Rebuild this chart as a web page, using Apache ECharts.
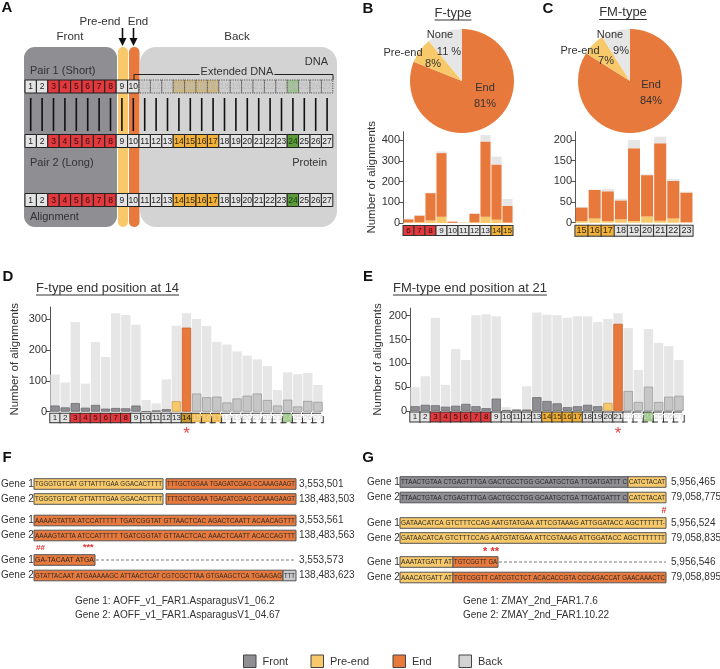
<!DOCTYPE html>
<html><head><meta charset="utf-8">
<script src="https://cdn.jsdelivr.net/npm/echarts@6/dist/echarts.min.js"></script>
<style>html,body{margin:0;padding:0;background:#fff}#c{width:720px;height:669px}</style>
</head><body><div id="c"></div>
<script>
// ---------------- DATA ----------------
const pieNames = ['End', 'Pre-end', 'None'];
const pieFValues = [81, 8, 11];
const pieFText = ['81%', '8%', '11 %'];
const pieFMValues = [84, 7, 9];
const pieFMText = ['84%', '7%', '9%'];

const barBCats = ['6','7','8','9','10','11','12','13','14','15'];
const barBPre  = [3, 4, 12, 30, 1, 0, 3, 30, 16, 2];
const barBEnd  = [15, 32, 132, 307, 6, 1, 42, 363, 266, 81];
const barBNone = [3, 2, 2, 8, 1, 1, 2, 31, 38, 33];
const barBRoles = ['r','r','r','g','g','g','g','g','o','o'];
const bTicks = [0, 100, 200, 300, 400];

const barCCats = ['15','16','17','18','19','20','21','22','23'];
const barCPre  = [4, 10, 4, 8, 4, 15, 5, 10, 1];
const barCEnd  = [33, 69, 72, 46, 176, 100, 187, 91, 72];
const barCNone = [1, 1, 6, 4, 20, 2, 16, 5, 2];
const barCRoles = ['o','o','o','g','g','g','g','g','g'];
const cTicks = [0, 50, 100, 150, 200];

const posCats = ['1','2','3','4','5','6','7','8','9','10','11','12','13','14','15','16','17','18','19','20','21','22','23','24','25','26','27'];
const posRoles = ['g','g','r','r','r','r','r','r','g','g','g','g','g','o','o','o','o','g','g','g','g','g','g','v','g','g','g'];

const dTotal = [121, 95, 291, 91, 226, 178, 320, 314, 282, 38, 27, 105, 279, 320, 301, 278, 227, 218, 196, 182, 170, 148, 70, 128, 122, 126, 87];
const dPart  = [20, 14, 28, 13, 22, 10, 12, 11, 20, 1, 4, 8, 34, 273, 59, 47, 49, 30, 43, 52, 59, 38, 20, 39, 17, 35, 32];
const dBarRoles = ['front','front','front','front','front','front','front','front','front','front','front','front','pre','end','back','back','back','back','back','back','back','back','back','back','back','back','back'];
const dLabelRoles = ['g','g','r','r','r','r','r','r','g','g','g','g','g','O','od','od','od','wd','wd','wd','wd','wd','wd','vd','wd','wd','wd'];
const dTicks = [0, 100, 200, 300];

const eTotal = [50, 73, 196, 55, 130, 107, 201, 203, 199, 8, 4, 52, 207, 202, 201, 196, 199, 199, 187, 193, 205, 174, 86, 172, 143, 136, 107];
const ePart  = [10, 13, 12, 9, 11, 15, 10, 6, 26, 2, 3, 3, 29, 21, 16, 8, 10, 13, 10, 17, 183, 42, 19, 51, 19, 30, 32];
const eBarRoles = ['front','front','front','front','front','front','front','front','front','front','front','front','front','front','front','front','front','front','front','pre','end','back','back','back','back','back','back'];
const eLabelRoles = ['g','g','r','r','r','r','r','r','g','g','g','g','g','o','o','o','o','g','g','g','g','wd','wd','vd','wd','wd','wd'];
const eTicks = [0, 50, 100, 150, 200];

const legendNames = ['Front', 'Pre-end', 'End', 'Back'];

const fGenes = ['Gene 1: AOFF_v1_FAR1.AsparagusV1_06.2', 'Gene 2: AOFF_v1_FAR1.AsparagusV1_04.67'];
const gGenes = ['Gene 1: ZMAY_2nd_FAR1.7.6', 'Gene 2: ZMAY_2nd_FAR1.10.22'];
const fNums = ['3,553,501','138,483,503','3,553,561','138,483,563','3,553,573','138,483,623'];
const gNums = ['5,956,465','79,058,775','5,956,524','79,058,835','5,956,546','79,058,895'];
const fSeqs = [
  ['TGGGTGTCAT GTTATTTGAA GGACACTTTT', 'TTTGCTGGAA TGAGATCGAG CCAAAGAAGT'],
  ['TGGGTGTCAT GTTATTTGAA GGACACTTTT', 'TTTGCTGGAA TGAGATCGAG CCAAAGAAGT'],
  ['AAAAGTATTA ATCCATTTTT TGATCGGTAT GTTAACTCAC AGACTCAATT ACAACAGTTT'],
  ['AAAAGTATTA ATCCATTTTT TGATCGGTAT GTTAACTCAC AAACTCAATT ACACCAGTTT'],
  ['GA-TACAAT ATGA'],
  ['GTATTACAAT ATGAAAAAGC ATTAACTCAT CGTCGCTTAA GTGAAGCTCA TGAAGAG', 'TTT']
];
const gSeqs = [
  ['TTAACTGTAA CTGAGTTTGA GACTGCCTGG GCAATGCTGA TTGATGATTT C', 'CATCTACAT'],
  ['TTAACTGTAA CTGAGTTTGA GACTGCCTGG GCAATGCTGA TTGATGATTT C', 'CATCTACAT'],
  ['GATAACATCA GTCTTTCCAG AATGTATGAA ATTCGTAAAG ATTGGATACC AGCTTTTTT-'],
  ['GATAACATCA GTCTTTCCAG AATGTATGAA ATTCGTAAAG ATTGGATACC AGCTTTTTTT'],
  ['AAATATGATT AT', 'TGTCGGTT GA'],
  ['AAACATGATT AT', 'TGTCGGTT CATCGTCTCT ACACACCGTA CCCAGACCAT GAACAAACTC']
];

// ---------------- STYLE ----------------
const FRONT = '#8e8e93', PRE = '#f7c96a', END = '#e8793c', BACK = '#d3d3d3', NONE = '#e6e6e6', BACKBAR = '#c6c6c6';
const FONT = '"Liberation Sans", Arial, sans-serif';
const NARROW = '"Liberation Sans Narrow", "Liberation Sans", sans-serif';
const pieColors = [END, PRE, NONE];
const cellStyles = {
  g:  {bg: '#e4e4e4', c: '#222', t: 'solid'},
  r:  {bg: '#e0393e', c: '#3a0808', t: 'solid'},
  o:  {bg: '#f0b23c', c: '#3a2600', t: 'solid'},
  O:  {bg: '#c99a30', c: '#2a1a00', t: 'solid'},
  od: {bg: '#efbe58', c: '#f7dca0', t: 'dashed'},
  wd: {bg: '#ffffff', c: '#d0d0d0', t: 'dashed'},
  vd: {bg: '#a3c892', c: '#c2dcb6', t: 'dashed'},
  v:  {bg: '#5b9b3c', c: '#1a3a10', t: 'solid'}
};
function richFor(w, h, fs) {
  const r = {};
  for (const k in cellStyles) {
    const s = cellStyles[k];
    r[k] = {width: w, height: h, lineHeight: h, align: 'center', verticalAlign: 'middle', fontSize: fs,
      fontFamily: FONT, color: s.c, backgroundColor: s.bg, borderColor: '#333', borderWidth: 1, borderType: s.t};
  }
  return r;
}
function fgStyle(role) {
  const m = {
    front: {color: FRONT, borderColor: '#6c6c70', borderWidth: 0.8},
    pre:   {color: PRE, borderColor: '#c9a050', borderWidth: 0.8},
    end:   {color: END, borderColor: '#c8602c', borderWidth: 0.8},
    back:  {color: BACKBAR, borderColor: '#9a9a9a', borderWidth: 0.8}
  };
  return m[role];
}
function yAx(grid, max, ticks, name, gap) {
  return {
    gridIndex: grid, type: 'value', min: 0, max: max,
    axisLine: {show: true, lineStyle: {color: '#555', width: 1}},
    axisTick: {show: true, length: 4, customValues: ticks, lineStyle: {color: '#555'}},
    axisLabel: {customValues: ticks, fontSize: 11, color: '#333', margin: 3, fontFamily: FONT},
    splitLine: {show: false},
    name: name || '', nameLocation: 'middle', nameGap: gap || 25,
    nameTextStyle: {fontSize: 11.5, color: '#333', fontFamily: FONT}
  };
}
function xAx(grid, cats, roles, w, h, fs, margin) {
  return {
    gridIndex: grid, type: 'category', data: cats,
    axisLine: {show: false}, axisTick: {show: false},
    axisLabel: {interval: 0, margin: margin, formatter: (v, i) => '{' + roles[i] + '|' + v + '}', rich: richFor(w, h, fs)}
  };
}

const chart = echarts.init(document.getElementById('c'), null, {width: 720, height: 669});

const grids = [
  {left: 403, top: 131.7, width: 110, height: 91.3},
  {left: 575, top: 131.7, width: 118, height: 91},
  {left: 50, top: 307, width: 273, height: 104.7},
  {left: 410, top: 308.1, width: 274, height: 102.9}
];

const option = {
  animation: false,
  textStyle: {fontFamily: FONT},
  grid: grids,
  xAxis: [
    xAx(0, barBCats, barBRoles, 10, 9, 8, 3),
    xAx(1, barCCats, barCRoles, 12.3, 10, 9, 3),
    xAx(2, posCats, dLabelRoles, 9.6, 8.5, 8, 2),
    xAx(3, posCats, eLabelRoles, 9.6, 9, 8, 1.5)
  ],
  yAxis: [
    yAx(0, 440, bTicks, 'Number of alignments', 24),
    yAx(1, 220, cTicks),
    yAx(2, 340, dTicks, 'Number of alignments', 29),
    yAx(3, 216, eTicks, 'Number of alignments', 26)
  ],
  series: [
    {type: 'pie', center: [462, 81], radius: 52, startAngle: 90, clockwise: true, silent: true,
      label: {show: false}, labelLine: {show: false},
      data: pieNames.map((n, i) => ({name: n, value: pieFValues[i], itemStyle: {color: pieColors[i]}}))},
    {type: 'pie', center: [630, 81], radius: 52, startAngle: 90, clockwise: true, silent: true,
      label: {show: false}, labelLine: {show: false},
      data: pieNames.map((n, i) => ({name: n, value: pieFMValues[i], itemStyle: {color: pieColors[i]}}))},

    {type: 'bar', xAxisIndex: 0, yAxisIndex: 0, stack: 'b', data: barBPre, itemStyle: {color: PRE}, barCategoryGap: '8%', silent: true},
    {type: 'bar', xAxisIndex: 0, yAxisIndex: 0, stack: 'b', data: barBEnd, itemStyle: {color: END}, barCategoryGap: '8%', silent: true},
    {type: 'bar', xAxisIndex: 0, yAxisIndex: 0, stack: 'b', data: barBNone, itemStyle: {color: NONE}, barCategoryGap: '8%', silent: true},

    {type: 'bar', xAxisIndex: 1, yAxisIndex: 1, stack: 'c', data: barCPre, itemStyle: {color: PRE}, barCategoryGap: '8%', silent: true},
    {type: 'bar', xAxisIndex: 1, yAxisIndex: 1, stack: 'c', data: barCEnd, itemStyle: {color: END}, barCategoryGap: '8%', silent: true},
    {type: 'bar', xAxisIndex: 1, yAxisIndex: 1, stack: 'c', data: barCNone, itemStyle: {color: NONE}, barCategoryGap: '8%', silent: true},

    {type: 'bar', xAxisIndex: 2, yAxisIndex: 2, data: dTotal, itemStyle: {color: NONE}, barGap: '-100%', barCategoryGap: '8%', silent: true},
    {type: 'bar', xAxisIndex: 2, yAxisIndex: 2, data: dPart.map((v, i) => ({value: v, itemStyle: fgStyle(dBarRoles[i])})), barGap: '-100%', barCategoryGap: '8%', silent: true},

    {type: 'bar', xAxisIndex: 3, yAxisIndex: 3, data: eTotal, itemStyle: {color: NONE}, barGap: '-100%', barCategoryGap: '8%', silent: true},
    {type: 'bar', xAxisIndex: 3, yAxisIndex: 3, data: ePart.map((v, i) => ({value: v, itemStyle: fgStyle(eBarRoles[i])})), barGap: '-100%', barCategoryGap: '8%', silent: true}
  ]
};
chart.setOption(option);

// ---------------- GRAPHIC ----------------
const G = [];
function R(x, y, w, h, fill, stroke, lw, dash, r, z) {
  G.push({type: 'rect', shape: {x, y, width: w, height: h, r: r || 0},
    style: {fill: fill, stroke: stroke || null, lineWidth: lw || 0, lineDash: dash || null}, z: z || 1, silent: true});
}
function T(x, y, s, o) {
  o = o || {};
  G.push({type: 'text', x, y, scaleX: o.sx || 1,
    style: {text: s, fill: o.c || '#333', font: o.f || ('11px ' + FONT), align: o.a || 'left', verticalAlign: o.v || 'middle',
      textAlign: o.a || 'left', textVerticalAlign: o.v || 'middle'}, z: o.z || 6, silent: true});
}
function L(x1, y1, x2, y2, stroke, lw, dash, z) {
  G.push({type: 'line', shape: {x1, y1, x2, y2}, style: {stroke, lineWidth: lw || 1, lineDash: dash || null}, z: z || 4, silent: true});
}
function P(points, fill, z) {
  G.push({type: 'polygon', shape: {points}, style: {fill}, z: z || 4, silent: true});
}
const mctx = document.createElement('canvas').getContext('2d');
function tw(s, font) { mctx.font = font; return mctx.measureText(s).width; }

// panel letters
const LF = 'bold 15px ' + FONT;
T(7, 8, 'A', {f: LF, a: 'center', c: '#111'});
T(368, 9, 'B', {f: LF, a: 'center', c: '#111'});
T(548, 9, 'C', {f: LF, a: 'center', c: '#111'});
T(8, 277, 'D', {f: LF, a: 'center', c: '#111'});
T(368, 277, 'E', {f: LF, a: 'center', c: '#111'});
T(7, 458, 'F', {f: LF, a: 'center', c: '#111'});
T(368, 458, 'G', {f: LF, a: 'center', c: '#111'});

// ---- Panel A ----
const AF = '11px ' + FONT;
R(24, 47, 93, 180, FRONT, null, 0, null, 11, 1);
R(118, 47, 10, 180, PRE, null, 0, null, 5, 1);
R(129, 47, 10.5, 180, END, null, 0, null, 5, 1);
R(140, 47, 197, 180, BACK, null, 0, null, 16, 1);
T(70, 37, 'Front', {f: '11.5px ' + FONT, a: 'center'});
T(237, 37, 'Back', {f: '11.5px ' + FONT, a: 'center'});
T(100, 22, 'Pre-end', {f: '11.5px ' + FONT, a: 'center'});
T(138, 22, 'End', {f: '11.5px ' + FONT, a: 'center'});
L(122.5, 28, 122.5, 40, '#111', 1.6);
P([[118.5, 38], [126.5, 38], [122.5, 46]], '#111');
L(133.5, 28, 133.5, 40, '#111', 1.6);
P([[129.5, 38], [137.5, 38], [133.5, 46]], '#111');
T(30, 71, 'Pair 1 (Short)', {f: AF});
T(30, 163, 'Pair 2 (Long)', {f: AF});
T(30, 217, 'Alignment', {f: AF});
T(328, 62, 'DNA', {f: AF, a: 'right'});
T(327, 163, 'Protein', {f: AF, a: 'right'});
T(237, 72, 'Extended DNA', {f: AF, a: 'center'});
const extW = tw('Extended DNA', AF);
L(134, 74.5, 237 - extW / 2 - 1, 74.5, '#222', 1);
L(237 + extW / 2 + 1, 74.5, 333, 74.5, '#222', 1);
L(134, 74.5, 134, 80, '#222', 1);
L(333, 74.5, 333, 80, '#222', 1);

const A_X0 = 25, A_CW = 11.4;
const aFill = {g: '#e4e4e4', r: '#e0393e', o: '#f0b23c', v: '#5b9b3c'};
const aFaded = {g: 'rgba(200,200,200,0.5)', r: 'rgba(224,57,62,0.4)', o: 'rgba(200,172,110,0.75)', v: 'rgba(140,185,125,0.75)'};
const aText = {g: '#222', r: '#3a0808', o: '#3a2600', v: '#1a3a10'};
function cellRow(y, faded) {
  for (let i = 0; i < posCats.length; i++) {
    const x = A_X0 + i * A_CW, role = posRoles[i];
    const f = faded && i >= 10;
    R(x, y, A_CW, 13, f ? aFaded[role] : aFill[role], f ? '#555' : '#222', 1, f ? [1.2, 1.2] : null, 0, 2);
    T(x + A_CW / 2, y + 6.8, posCats[i], {f: '8.5px ' + FONT, a: 'center', c: f ? '#bdbdbd' : aText[role], z: 3});
  }
}
cellRow(80, true);
cellRow(134.5, false);
cellRow(193.5, false);
for (let i = 0; i < posCats.length; i++) {
  const x = A_X0 + i * A_CW + A_CW / 2;
  L(x, 98, x, 131, '#111', 1.6);
}

// ---- Panel B / C pies labels and titles ----
function title(cx, y, s) {
  T(cx, y, s, {f: '13px ' + FONT, a: 'center'});
  const w = tw(s, '13px ' + FONT);
  L(cx - w / 2, y + 7, cx + w / 2, y + 7, '#333', 1);
}
title(453, 13, 'F-type');
title(623, 12.5, 'FM-type');
const PF = '11px ' + FONT;
T(440, 35, pieNames[2], {f: PF, a: 'center'});
T(449, 52, pieFText[2], {f: PF, a: 'center'});
T(403, 53, pieNames[1], {f: PF, a: 'center'});
T(433, 64, pieFText[1], {f: PF, a: 'center'});
T(485, 88, pieNames[0], {f: PF, a: 'center'});
T(485, 104, pieFText[0], {f: PF, a: 'center'});
T(610, 35, pieNames[2], {f: PF, a: 'center'});
T(621, 51, pieFMText[2], {f: PF, a: 'center'});
T(580, 51, pieNames[1], {f: PF, a: 'center'});
T(606, 61, pieFMText[1], {f: PF, a: 'center'});
T(651, 85, pieNames[0], {f: PF, a: 'center'});
T(651, 101, pieFMText[0], {f: PF, a: 'center'});

// ---- Panel D / E titles & asterisks ----
function ltitle(x, y, s) {
  T(x, y, s, {f: '13px ' + FONT});
  const w = tw(s, '13px ' + FONT);
  L(x, y + 7, x + w, y + 7, '#333', 1);
}
ltitle(36, 288, 'F-type end position at 14');
ltitle(393, 288, 'FM-type end position at 21');
const pD = chart.convertToPixel({xAxisIndex: 2, yAxisIndex: 2}, [13, 0]);
const pE = chart.convertToPixel({xAxisIndex: 3, yAxisIndex: 3}, [20, 0]);
T(pD[0], 434, '*', {f: '17px ' + FONT, a: 'center', c: '#e04848'});
T(pE[0], 434, '*', {f: '17px ' + FONT, a: 'center', c: '#e04848'});

// ---- Panels F / G ----
const segColor = {front: FRONT, pre: PRE, end: END, back: '#c8c8cc'};
function seqBox(x0, x1, yc, s, kind) {
  R(x0, yc - 5.3, x1 - x0, 10.6, segColor[kind], '#555', 1, null, 0, 2);
  const f = '7px ' + NARROW;
  const w = tw(s, f);
  const sx = Math.min(1.4, (x1 - x0 - 2) / w);
  T(x0 + 1, yc + 0.5, s, {f: f, sx: sx, c: '#2a2a2a', z: 3});
}
const GF = '10px ' + FONT;
// F
const fY = [484, 499, 520.5, 535.5, 560, 575.5];
fY.forEach((y, k) => T(1, y, k % 2 === 0 ? 'Gene 1' : 'Gene 2', {f: GF}));
fY.forEach((y, k) => T(299, y, fNums[k], {f: GF}));
seqBox(34, 163, fY[0], fSeqs[0][0], 'pre'); seqBox(166, 296, fY[0], fSeqs[0][1], 'end');
seqBox(34, 163, fY[1], fSeqs[1][0], 'pre'); seqBox(166, 296, fY[1], fSeqs[1][1], 'end');
seqBox(34, 296, fY[2], fSeqs[2][0], 'end');
seqBox(34, 296, fY[3], fSeqs[3][0], 'end');
seqBox(34, 95, fY[4], fSeqs[4][0], 'end');
L(96, fY[4], 296, fY[4], '#555', 0.8, [3, 2]);
seqBox(34, 283, fY[5], fSeqs[5][0], 'end'); seqBox(283, 296, fY[5], fSeqs[5][1], 'back');
T(36, 548, '##', {f: 'bold 8px ' + FONT, c: '#e03030'});
T(83, 548, '***', {f: 'bold 9px ' + FONT, c: '#e03030'});
T(75, 601, fGenes[0], {f: '10px ' + FONT});
T(75, 615.5, fGenes[1], {f: '10px ' + FONT});
// G
const gY = [482, 497.5, 523, 538, 562, 577.5];
gY.forEach((y, k) => T(367, y, k % 2 === 0 ? 'Gene 1' : 'Gene 2', {f: GF}));
gY.forEach((y, k) => T(671, y, gNums[k], {f: GF}));
seqBox(400, 628, gY[0], gSeqs[0][0], 'front'); seqBox(628, 666, gY[0], gSeqs[0][1], 'pre');
seqBox(400, 628, gY[1], gSeqs[1][0], 'front'); seqBox(628, 666, gY[1], gSeqs[1][1], 'pre');
seqBox(400, 666, gY[2], gSeqs[2][0], 'pre');
seqBox(400, 666, gY[3], gSeqs[3][0], 'pre');
seqBox(400, 453, gY[4], gSeqs[4][0], 'pre'); seqBox(453, 498, gY[4], gSeqs[4][1], 'end');
L(499, gY[4], 666, gY[4], '#555', 0.8, [3, 2]);
seqBox(400, 453, gY[5], gSeqs[5][0], 'pre'); seqBox(453, 666, gY[5], gSeqs[5][1], 'end');
T(664, 511, '#', {f: 'bold 9px ' + FONT, c: '#e03030', a: 'center'});
T(491, 552, '* **', {f: 'bold 11px ' + FONT, c: '#e03030', a: 'center'});
T(463, 601, gGenes[0], {f: '10px ' + FONT});
T(463, 615.5, gGenes[1], {f: '10px ' + FONT});

// ---- Legend ----
const legX = [243.5, 311, 393, 459];
const legC = [FRONT, PRE, END, BACK];
legendNames.forEach((n, i) => {
  R(legX[i], 655, 12.5, 12.5, legC[i], '#444', 1, null, 0, 2);
  T(legX[i] + 19, 661.5, n, {f: '11px ' + FONT});
});

chart.setOption({graphic: {elements: G}});
</script>
</body></html>
